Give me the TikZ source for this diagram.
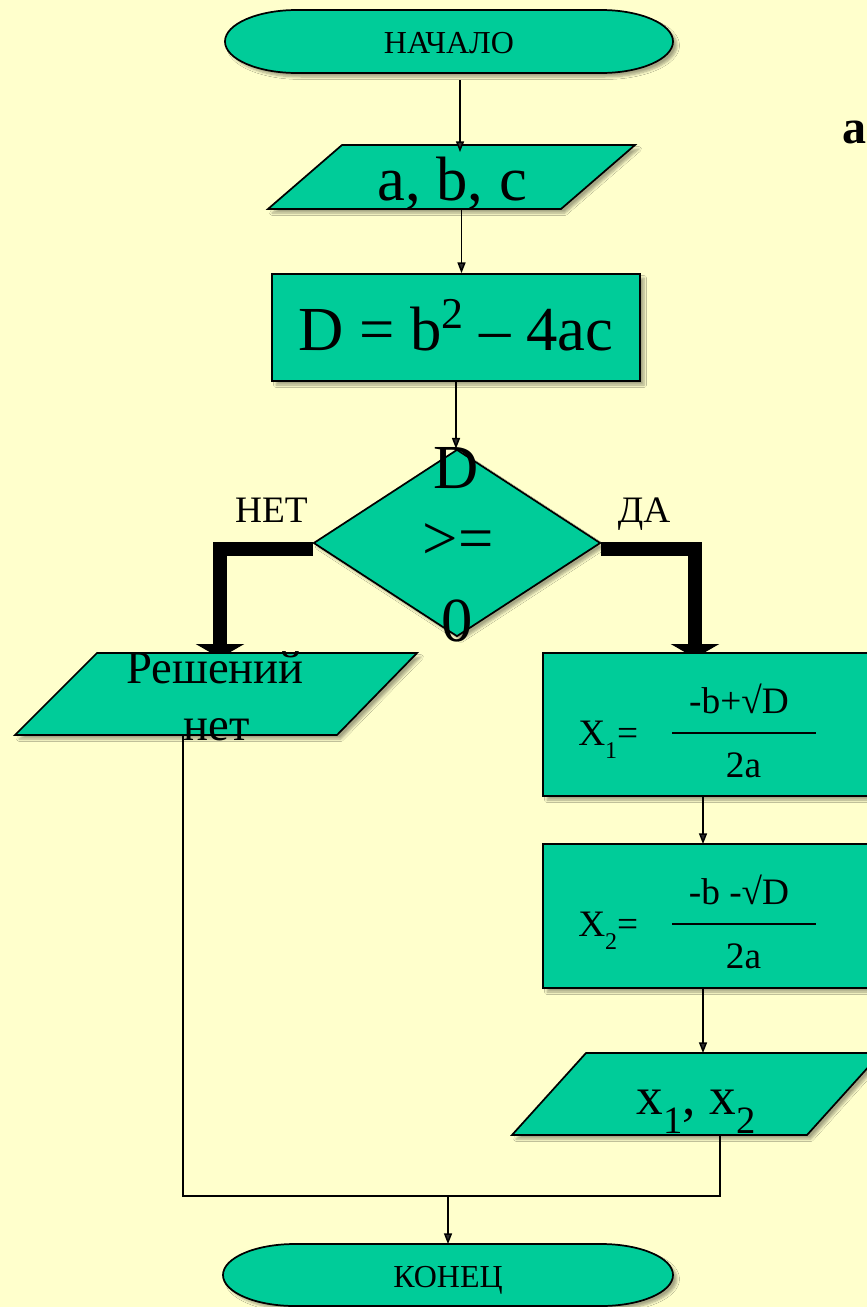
\documentclass[tikz,border=0pt]{standalone}
\usepackage{fontspec}
\setmainfont{Liberation Serif}
\usetikzlibrary{shapes.geometric,arrows.meta,shadows.blur,calc}
\definecolor{bgc}{HTML}{FFFFCC}
\definecolor{tealf}{HTML}{00CC99}
\newcommand{\pxu}{0.75pt}
\newcommand{\fsz}[1]{\fontsize{#1}{#1}\selectfont}
\begin{document}
\begin{tikzpicture}[x=0.75pt,y=0.75pt,
  shp/.style={draw=black, line width=1.3pt, fill=tealf,
    blur shadow={shadow xshift=3pt, shadow yshift=-3pt, shadow opacity=35, shadow blur steps=6}},
  arr/.style={line width=1.1pt, -{Triangle[length=8pt,width=6pt]}},
  ln/.style={line width=1.1pt},
  fat/.style={line width=10pt, line join=miter, -{Triangle[length=10.5pt,width=36pt]}},
  txt/.style={inner sep=0pt, anchor=base, text=black},
  box/.style={inner sep=0pt, outer sep=0pt},
  frac/.style={line width=1.5pt}
]
\useasboundingbox (0,0) rectangle (867,-1307);
\fill[bgc] (0,0) rectangle (867,-1307);
\clip (0,0) rectangle (867,-1307);

% frames of the shapes (named, drawn below)
\node[box, minimum width=448*\pxu, minimum height=63*\pxu] (start) at (449,-41.5) {};
\node[box, minimum width=450*\pxu, minimum height=62*\pxu] (end) at (448,-1275) {};
\node[box, minimum width=367*\pxu, minimum height=64*\pxu] (abc) at (451.5,-177) {};
\node[box, minimum width=402*\pxu, minimum height=82*\pxu] (res) at (216,-694) {};
\node[box, minimum width=352*\pxu, minimum height=143*\pxu] (x1) at (719,-724.5) {};
\node[box, minimum width=352*\pxu, minimum height=144*\pxu] (x2) at (719,-916) {};
\node[box, minimum width=369*\pxu, minimum height=82*\pxu] (xs) at (696.5,-1094) {};

% decision
\node[shp, diamond, inner sep=0pt, minimum width=287*\pxu, minimum height=187*\pxu] (dia) at (457,-543) {};

% thick branches (under the boxes)
\draw[fat] ([yshift=-6*\pxu]dia.west) -| ([xshift=4*\pxu, yshift=-5*\pxu]res.north);
\draw[fat] ([yshift=-6*\pxu]dia.east) -| ([xshift=-24*\pxu, yshift=-5*\pxu]x1.north);

% terminals
\draw[shp] ($(start.north west)+(72,0)$) -- ($(start.north east)+(-72,0)$)
  arc[start angle=90, end angle=-90, x radius=72*\pxu, y radius=31.5*\pxu]
  -- ($(start.south west)+(72,0)$)
  arc[start angle=270, end angle=90, x radius=72*\pxu, y radius=31.5*\pxu] -- cycle;
\draw[shp] ($(end.north west)+(72,0)$) -- ($(end.north east)+(-72,0)$)
  arc[start angle=90, end angle=-90, x radius=72*\pxu, y radius=31*\pxu]
  -- ($(end.south west)+(72,0)$)
  arc[start angle=270, end angle=90, x radius=72*\pxu, y radius=31*\pxu] -- cycle;
\node[txt, font=\fsz{24}] (startt) at (449,-53) {НАЧАЛО};
\node[txt, font=\fsz{24}] (endt) at (448,-1287) {КОНЕЦ};

% input a, b, c
\draw[shp] (abc.south west) -- ($(abc.south east)+(-74,0)$) -- (abc.north east) -- ($(abc.north west)+(74,0)$) -- cycle;
\node[txt, font=\fsz{47}] (abct) at (452,-200) {a, b, c};

% D box
\node[shp, rectangle, minimum width=368*\pxu, minimum height=107*\pxu] (dbox) at (456,-327.5) {};
\node[txt, font=\fsz{47}] (dboxt) at (456,-350) {D = b\raisebox{16.5pt}{\fsz{33}2} – 4ac};

% decision text
\node[txt, font=\fsz{47}] (dia1) at (456,-488) {D};
\node[txt, font=\fsz{47}] (dia2) at (458,-559) {>=};
\node[txt, font=\fsz{47}] (dia3) at (457,-641) {0};
\node[txt, font=\fsz{28}] (no) at (271.5,-522) {НЕТ};
\node[txt, font=\fsz{28}] (yes) at (644,-522) {ДА};

% no solutions
\draw[shp] (res.south west) -- ($(res.south east)+(-80,0)$) -- (res.north east) -- ($(res.north west)+(82,0)$) -- cycle;
\node[txt, font=\fsz{35}] (res1) at (215,-683) {Решений};
\node[txt, font=\fsz{35}] (res2) at (216.5,-740) {нет};

% X1 box
\draw[shp] (x1.north west) rectangle (x1.south east);
\node[txt, anchor=base west, font=\fsz{28}] (x1l) at (578,-745) {X\raisebox{-9.75pt}{\fsz{18}1}=};
\node[txt, font=\fsz{28}] (x1n) at (739,-713) {-b+√D};
\draw[frac] (672,-733) -- (816,-733);
\node[txt, font=\fsz{28}] (x1d) at (743.5,-777) {2a};

% X2 box
\draw[shp] (x2.north west) rectangle (x2.south east);
\node[txt, anchor=base west, font=\fsz{28}] (x2l) at (578,-936) {X\raisebox{-9.75pt}{\fsz{18}2}=};
\node[txt, font=\fsz{28}] (x2n) at (739,-904) {-b -√D};
\draw[frac] (672,-924) -- (816,-924);
\node[txt, font=\fsz{28}] (x2d) at (743.5,-968) {2a};

% output x1, x2
\draw[shp] (xs.south west) -- ($(xs.south east)+(-74,0)$) -- (xs.north east) -- ($(xs.north west)+(74,0)$) -- cycle;
\node[txt, font=\fsz{40}] (xst) at (696,-1114) {x\raisebox{-14.25pt}{\fsz{29}1}, x\raisebox{-14.25pt}{\fsz{29}2}};

% label
\node[txt, anchor=base west, font=\bfseries\fsz{36}] (lbl) at (842,-143) {a)};

% connectors
\draw[arr] ([shift={(11,-7)}]start.south) -- ([shift={(11,-7)}]start.south |- abc.north);
\draw[arr] ([xshift=10*\pxu]abc.south) -- ([xshift=10*\pxu]abc.south |- dbox.north);
\draw[arr] (dbox.south) -- (dbox.south |- dia.north);
\draw[arr] ([xshift=-16*\pxu]x1.south) -- ([xshift=-16*\pxu]x1.south |- x2.north);
\draw[arr] ([xshift=-16*\pxu]x2.south) -- ([xshift=-16*\pxu]x2.south |- xs.north);
\coordinate (join) at (448,-1196);
\draw[ln] ([xshift=23.5*\pxu]xs.south) |- (join);
\draw[ln] ([xshift=-33*\pxu]res.south) |- (join);
\draw[arr] (join) -- (end.north);
\end{tikzpicture}
\end{document}
